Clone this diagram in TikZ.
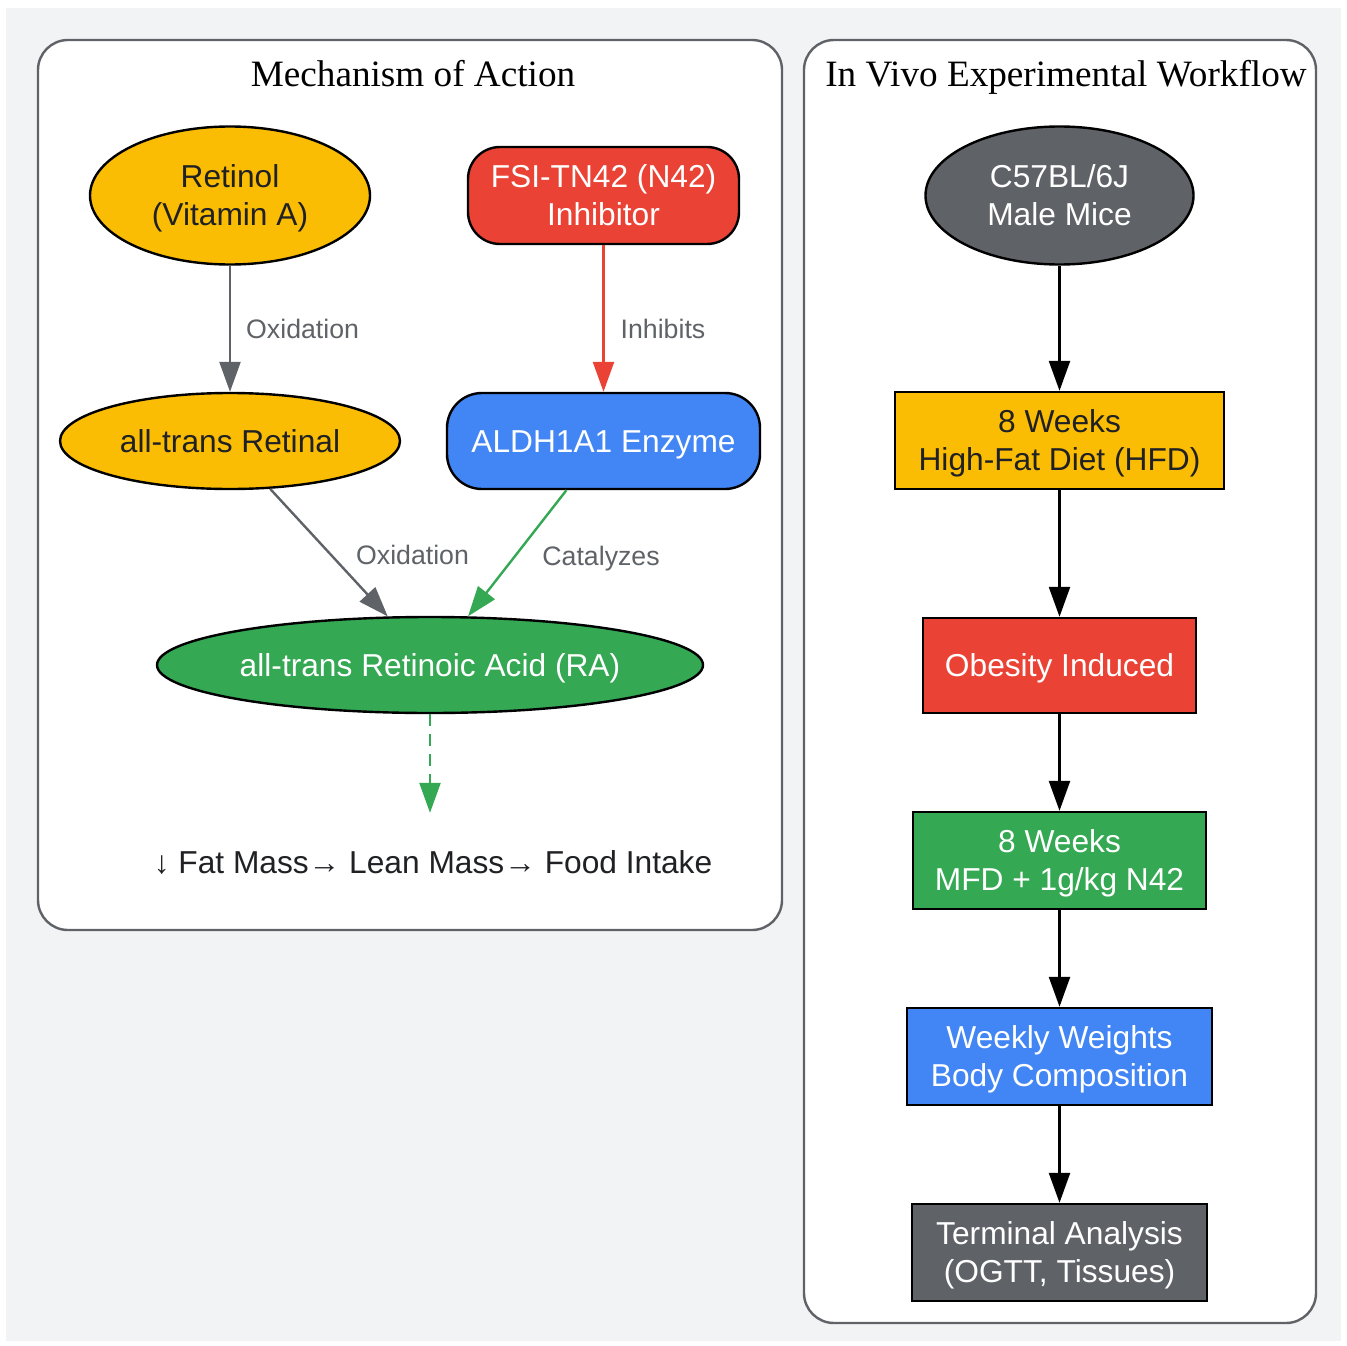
\documentclass[tikz,border=0pt]{standalone}
\usepackage{fontspec}
\setmainfont{Liberation Serif}
\newfontfamily\sansf{Liberation Sans}
\usetikzlibrary{arrows.meta,calc,shapes.geometric}
\definecolor{gyellow}{HTML}{FBBC04}
\definecolor{gred}{HTML}{EA4335}
\definecolor{gblue}{HTML}{4285F4}
\definecolor{ggreen}{HTML}{34A853}
\definecolor{ggray}{HTML}{5F6368}
\definecolor{gbg}{HTML}{F1F3F4}
\definecolor{gdark}{HTML}{202124}
\tikzset{
  nodefont/.style={font=\sansf\fontsize{31.7}{38}\selectfont},
  oneline/.style={text height=22.7pt, text depth=0pt},
  twoline/.style={text height=60.7pt, text depth=0pt},
  base/.style={nodefont, draw=black, line width=2.4pt, inner sep=0pt, align=center},
  ell/.style={base, ellipse},
  rbox/.style={base, rectangle, rounded corners=32pt},
  sbox/.style={base, rectangle},
  cluster/.style={draw=ggray, line width=2.4pt, rounded corners=30pt, fill=white},
  ctitle/.style={font=\fontsize{37.2}{44}\selectfont, text=black, anchor=base, inner sep=0pt},
  lbl/.style={font=\sansf\fontsize{26.7}{32}\selectfont, text=ggray, inner sep=0pt, text height=19pt, text depth=0pt},
  arr/.style={line width=2.4pt, -{Triangle[length=30pt,width=21pt]}},
}
\begin{document}
\begin{tikzpicture}[x=1pt,y=-1pt]
\useasboundingbox (0,0) rectangle (1347,1346);
\fill[white] (0,0) rectangle (1347,1346);
\fill[gbg] (6,8) rectangle (1341,1341);
% clusters
\draw[cluster] (38,40) rectangle (782,930);
\draw[cluster] (804,40) rectangle (1316,1323);
\node[ctitle] (t1) at (413,86) {Mechanism of Action};
\node[ctitle] (t2) at (1066,86) {In Vivo Experimental Workflow};
% left nodes
\node[ell, twoline, fill=gyellow, text=gdark, minimum width=280pt, minimum height=138pt] (retinol) at (230,195.5) {Retinol\\(Vitamin A)};
\node[rbox, twoline, fill=gred, text=white, minimum width=271pt, minimum height=97pt] (fsi) at (603.5,195.5) {FSI-TN42 (N42)\\Inhibitor};
\node[ell, oneline, fill=gyellow, text=gdark, minimum width=340pt, minimum height=96pt] (retinal) at (230,441) {all-trans Retinal};
\node[rbox, oneline, fill=gblue, text=white, minimum width=313pt, minimum height=96pt, rounded corners=35pt] (aldh) at (603.5,441) {ALDH1A1 Enzyme};
\node[ell, oneline, fill=ggreen, text=white, minimum width=546pt, minimum height=96pt] (ra) at (430,665) {all-trans Retinoic Acid (RA)};
\node[nodefont, oneline, text=gdark, inner sep=0pt, minimum height=98pt] (eff) at (433,862) {↓ Fat Mass→ Lean Mass→ Food Intake};
% left edges
\draw[arr, ggray] (retinol) -- node[lbl, midway, right=15pt] {Oxidation} (retinal);
\draw[arr, gred] (fsi) -- node[lbl, pos=0.57, right=16pt] {Inhibits} (aldh);
\draw[arr, ggray] (retinal.-50) -- node[lbl, midway, right=26pt, yshift=-2pt] {Oxidation} (ra.131);
\draw[arr, ggreen] (aldh.-127) -- node[lbl, midway, right=24pt, yshift=-3pt] {Catalyzes} (ra.52);
\draw[arr, ggreen, dash pattern=on 12pt off 8pt] (ra) -- (ra |- eff.north);
% right nodes
\node[ell, twoline, fill=ggray, text=white, minimum width=268pt, minimum height=138pt] (mice) at (1059.5,195.5) {C57BL/6J\\Male Mice};
\node[sbox, twoline, fill=gyellow, text=gdark, minimum width=329pt, minimum height=97pt] (hfd) at (1059.5,440.5) {8 Weeks\\High-Fat Diet (HFD)};
\node[sbox, oneline, fill=gred, text=white, minimum width=273pt, minimum height=95pt] (obese) at (1059.5,665.5) {Obesity Induced};
\node[sbox, twoline, fill=ggreen, text=white, minimum width=293pt, minimum height=97pt] (mfd) at (1059.5,860.5) {8 Weeks\\MFD + 1g/kg N42};
\node[sbox, twoline, fill=gblue, text=white, minimum width=305pt, minimum height=97pt] (weekly) at (1059.5,1056.5) {Weekly Weights\\Body Composition};
\node[sbox, twoline, fill=ggray, text=white, minimum width=295pt, minimum height=97pt] (term) at (1059.5,1252.5) {Terminal Analysis\\(OGTT, Tissues)};
% right edges
\draw[arr, black] (mice) -- (hfd);
\draw[arr, black] (hfd) -- (obese);
\draw[arr, black] (obese) -- (mfd);
\draw[arr, black] (mfd) -- (weekly);
\draw[arr, black] (weekly) -- (term);
\end{tikzpicture}
\end{document}
